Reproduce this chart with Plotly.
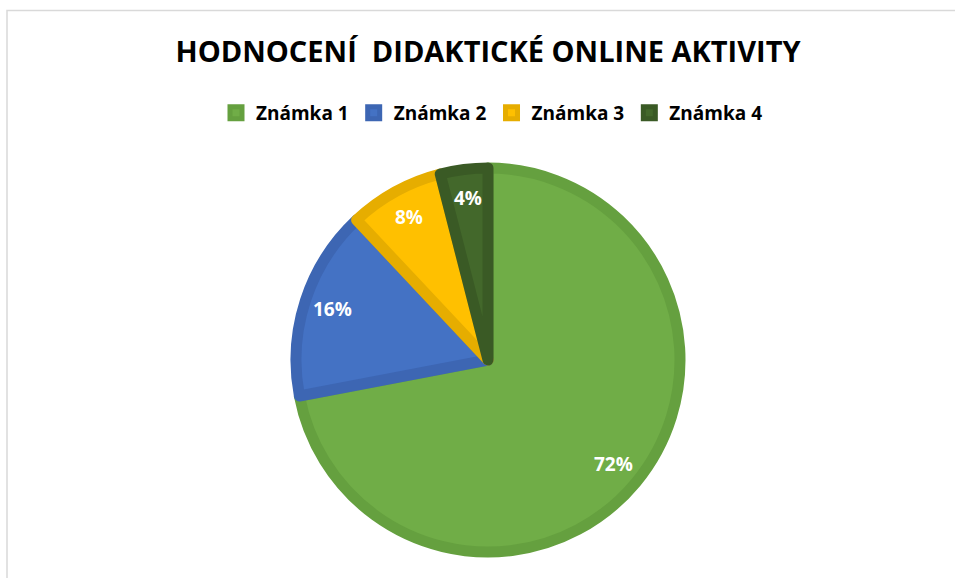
import math
import plotly.graph_objects as go

categories = ["Známka 1", "Známka 2", "Známka 3", "Známka 4"]
values = [72, 16, 8, 4]
fill_colors = ["#70AD47", "#4472C4", "#FFC000", "#43682B"]
border_colors = ["#65A03F", "#3D66B3", "#E6AD00", "#3A5A25"]

W, H = 955, 578
cx, cy, r = 488, 360, 192

fig = go.Figure(go.Pie(
    labels=categories,
    values=values,
    sort=False,
    direction="clockwise",
    rotation=0,
    marker=dict(colors=fill_colors, line=dict(color=border_colors, width=11)),
    textinfo="none",
    domain=dict(x=[(cx - r) / W, (cx + r) / W], y=[(H - cy - r) / H, (H - cy + r) / H]),
    hoverinfo="label+percent",
))

# percentage labels placed at the middle angle of each slice
total = sum(values)
annotations = []
cum = 0
label_frac = 0.83
for v in values:
    mid = (cum + v / 2) / total * 2 * math.pi
    cum += v
    px = cx + label_frac * (r + 5) * math.sin(mid)
    py = cy - label_frac * (r + 5) * math.cos(mid)
    annotations.append(dict(
        x=px / W, y=1 - py / H, xref="paper", yref="paper",
        text=f"{round(v / total * 100)}%", showarrow=False,
        xanchor="center", yanchor="middle",
        font=dict(family="Open Sans", size=19, color="white", weight="bold"),
    ))

fig.update_layout(
    width=W, height=H,
    margin=dict(l=0, r=0, t=0, b=0),
    paper_bgcolor="white",
    title=dict(
        text="HODNOCENÍ&nbsp;&nbsp;DIDAKTICKÉ ONLINE AKTIVITY",
        x=488 / W, xanchor="center", y=1 - 52 / H, yanchor="middle",
        font=dict(family="Open Sans", size=29, color="black", weight="bold"),
    ),
    legend=dict(
        orientation="h", x=492 / W, xanchor="center", y=1 - 113 / H, yanchor="middle",
        font=dict(family="Open Sans", size=19, color="black", weight="bold"),
        itemwidth=30, traceorder="normal",
    ),
    annotations=annotations,
    shapes=[dict(type="rect", xref="paper", yref="paper",
                 x0=7 / W, x1=1.02, y0=-0.02, y1=1 - 10.5 / H,
                 line=dict(color="#D9D9D9", width=1.5))],
)

fig.write_html("out.html", config={"displayModeBar": False},
               post_script="document.body.style.margin='0px';")
